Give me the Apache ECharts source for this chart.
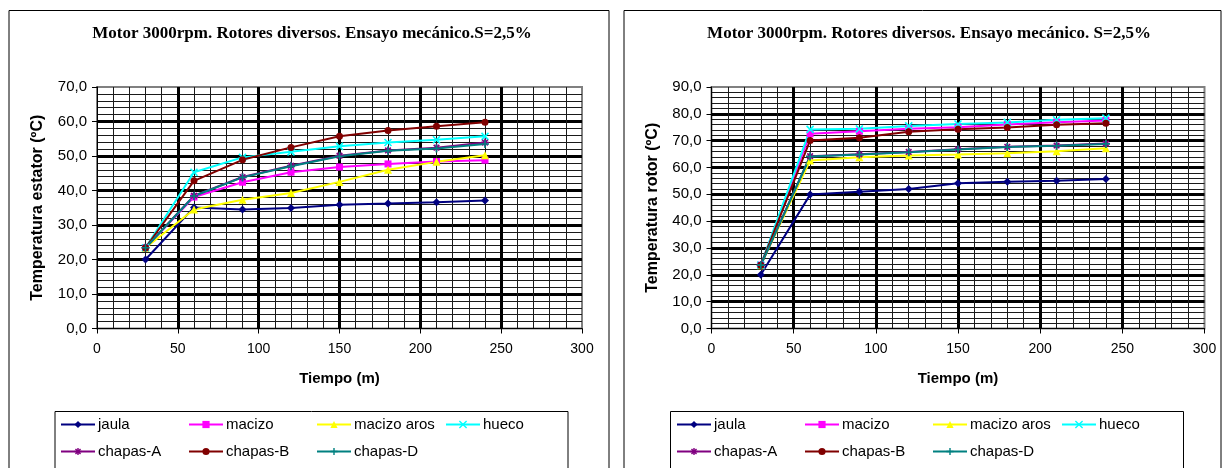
<!DOCTYPE html>
<html>
<head>
<meta charset="utf-8">
<title>Motor 3000rpm - Rotores diversos</title>
<script src="https://cdn.jsdelivr.net/npm/echarts@6/dist/echarts.min.js"></script>
<style>
  html, body { margin: 0; padding: 0; background: #fff; }
  #chart { width: 1228px; height: 468px; }
</style>
</head>
<body>
<div id="chart"></div>
<script>
// Time of test, minutes
const tiempo = [30, 60, 90, 120, 150, 180, 210, 240];

// Series names (shared by both panels)
const nombres = ['jaula', 'macizo', 'macizo aros', 'hueco', 'chapas-A', 'chapas-B', 'chapas-D'];

// Stator temperature (ºC)
const estatorJaula      = [20.0, 35.1, 34.5, 34.9, 35.9, 36.2, 36.6, 37.1];
const estatorMacizo     = [23.4, 38.1, 42.4, 45.3, 46.8, 47.7, 48.4, 48.8];
const estatorMacizoAros = [23.4, 34.5, 37.3, 39.3, 42.5, 46.0, 48.3, 50.2];
const estatorHueco      = [23.4, 45.3, 49.6, 51.2, 52.8, 53.9, 54.7, 55.7];
const estatorChapasA    = [23.4, 38.5, 43.9, 47.2, 50.1, 51.6, 52.4, 53.9];
const estatorChapasB    = [23.4, 42.8, 48.9, 52.5, 55.7, 57.4, 58.6, 59.8];
const estatorChapasD    = [23.4, 38.4, 43.8, 47.0, 49.9, 51.5, 52.2, 53.5];

// Rotor temperature (ºC)
const rotorJaula      = [20.0, 49.9, 51.0, 52.0, 54.1, 54.7, 55.1, 55.7];
const rotorMacizo     = [23.6, 72.6, 73.5, 74.4, 75.0, 76.0, 76.9, 77.5];
const rotorMacizoAros = [23.6, 62.6, 63.8, 64.5, 64.8, 65.3, 66.1, 67.2];
const rotorHueco      = [23.6, 74.2, 74.4, 75.5, 76.2, 76.8, 77.8, 78.4];
const rotorChapasA    = [23.6, 64.2, 64.9, 65.8, 66.8, 67.7, 68.2, 68.9];
const rotorChapasB    = [23.6, 70.1, 71.1, 73.3, 74.3, 74.9, 75.9, 76.5];
const rotorChapasD    = [23.6, 64.1, 64.8, 65.7, 66.7, 67.6, 68.1, 68.8];

// Axis ticks
const xTicks = { min: 0, max: 300, interval: 50 };
const yTicksEstator = { min: 0, max: 70, interval: 10 };
const yTicksRotor = { min: 0, max: 90, interval: 10 };

const estilos = {
  'jaula':       { color: '#000080', symbol: 'diamond', size: 8, stroke: false },
  'macizo':      { color: '#FF00FF', symbol: 'rect', size: 7, stroke: false },
  'macizo aros': { color: '#FFFF00', symbol: 'triangle', size: 8, stroke: false },
  'hueco':       { color: '#00FFFF', symbol: 'path://M0,0L10,10M10,0L0,10', size: 7, stroke: true },
  'chapas-A':    { color: '#800080', symbol: 'path://M5,0L5,10M0,5L10,5M1.5,1.5L8.5,8.5M8.5,1.5L1.5,8.5', size: 8, stroke: true },
  'chapas-B':    { color: '#800000', symbol: 'circle', size: 7, stroke: false },
  'chapas-D':    { color: '#008080', symbol: 'path://M5,0L5,10M0,5L10,5', size: 8, stroke: true }
};

const FONT = 'Liberation Sans, Arial, sans-serif';
const commaFmt = v => v.toFixed(1).replace('.', ',');

function pares(vals) {
  return tiempo.map((t, i) => [t, vals[i]]);
}

function serie(nombre, vals, idx) {
  const e = estilos[nombre];
  return {
    name: nombre,
    type: 'line',
    xAxisIndex: idx,
    yAxisIndex: idx,
    data: pares(vals),
    symbol: e.symbol,
    symbolSize: e.size,
    showAllSymbol: true,
    lineStyle: { color: e.color, width: 2 },
    itemStyle: {
      color: e.color,
      borderColor: e.color,
      borderWidth: e.stroke ? 1.6 : 0
    },
    emphasis: { disabled: true },
    z: 5
  };
}

function ejeX(idx) {
  return {
    type: 'value',
    gridIndex: idx,
    min: xTicks.min,
    max: xTicks.max,
    interval: xTicks.interval,
    name: 'Tiempo (m)',
    nameLocation: 'middle',
    nameGap: 43,
    nameTextStyle: { fontFamily: FONT, fontSize: 15, fontWeight: 'bold', color: '#000' },
    axisLine: { show: true, lineStyle: { color: '#000', width: 1 } },
    axisTick: { show: true, length: 5, lineStyle: { color: '#000' } },
    axisLabel: { fontFamily: FONT, fontSize: 14, color: '#000', margin: 14 },
    splitLine: { show: true, showMinLine: false, showMaxLine: false, lineStyle: { color: '#000', width: 3 } },
    minorTick: { show: false, splitNumber: 5 },
    minorSplitLine: { show: true, lineStyle: { color: '#1a1a1a', width: 1 } }
  };
}

function ejeY(idx, ticks, titulo) {
  return {
    type: 'value',
    gridIndex: idx,
    min: ticks.min,
    max: ticks.max,
    interval: ticks.interval,
    name: titulo,
    nameLocation: 'middle',
    nameGap: 51,
    nameTextStyle: { fontFamily: FONT, fontSize: 16, fontWeight: 'bold', color: '#000' },
    axisLine: { show: true, lineStyle: { color: '#000', width: 1 } },
    axisTick: { show: true, length: 5, lineStyle: { color: '#000' } },
    axisLabel: { fontFamily: FONT, fontSize: 15, color: '#000', margin: 10, formatter: commaFmt },
    splitLine: { show: true, showMinLine: false, showMaxLine: false, lineStyle: { color: '#000', width: 3 } },
    minorTick: { show: false, splitNumber: 5 },
    minorSplitLine: { show: true, lineStyle: { color: '#1a1a1a', width: 1 } }
  };
}

// Legend entries, one component per entry so columns line up
function leyendas(x0, y0) {
  const colX = [0, 128, 256, 385];
  const out = [];
  nombres.forEach((n, i) => {
    const fila = i < 4 ? 0 : 1;
    const col = i < 4 ? i : i - 4;
    out.push({
      data: [n],
      left: x0 + colX[col],
      top: y0 + fila * 27,
      padding: 0,
      itemWidth: 34,
      itemHeight: 9,
      selectedMode: false,
      itemStyle: { borderWidth: estilos[n].stroke ? 1.4 : 0 },
      textStyle: { fontFamily: FONT, fontSize: 15, color: '#000', padding: [0, 0, 0, -2] }
    });
  });
  return out;
}

const series = [];
[estatorJaula, estatorMacizo, estatorMacizoAros, estatorHueco, estatorChapasA, estatorChapasB, estatorChapasD]
  .forEach((v, i) => series.push(serie(nombres[i], v, 0)));
[rotorJaula, rotorMacizo, rotorMacizoAros, rotorHueco, rotorChapasA, rotorChapasB, rotorChapasD]
  .forEach((v, i) => series.push(serie(nombres[i], v, 1)));

const TITLE_FONT = 'bold 17px "Liberation Serif", "Times New Roman", serif';

const chart = echarts.init(document.getElementById('chart'), null, { renderer: 'canvas' });
chart.setOption({
  animation: false,
  backgroundColor: '#fff',
  grid: [
    { left: 97, top: 87, width: 485, height: 241.5, show: true, borderColor: '#808080', borderWidth: 2, backgroundColor: '#fff' },
    { left: 711.5, top: 87, width: 493, height: 241.5, show: true, borderColor: '#808080', borderWidth: 2, backgroundColor: '#fff' }
  ],
  xAxis: [ejeX(0), ejeX(1)],
  yAxis: [ejeY(0, yTicksEstator, 'Temperatura estator (ºC)'), ejeY(1, yTicksRotor, 'Temperatura rotor (ºC)')],
  legend: leyendas(60, 417).concat(leyendas(676, 417)),
  graphic: [
    { type: 'rect', shape: { x: 9, y: 10.5, width: 600, height: 470 }, style: { fill: 'none', stroke: '#000', lineWidth: 1 }, z: -1, silent: true },
    { type: 'rect', shape: { x: 624, y: 10.5, width: 597, height: 470 }, style: { fill: 'none', stroke: '#000', lineWidth: 1 }, z: -1, silent: true },
    { type: 'rect', shape: { x: 55, y: 411.5, width: 513, height: 70 }, style: { fill: 'none', stroke: '#000', lineWidth: 1 }, silent: true },
    { type: 'rect', shape: { x: 670.5, y: 411.5, width: 513, height: 70 }, style: { fill: 'none', stroke: '#000', lineWidth: 1 }, silent: true },
    { type: 'text', x: 312, y: 34, style: { text: 'Motor 3000rpm. Rotores diversos. Ensayo mecánico.S=2,5%', font: TITLE_FONT, fill: '#000', textAlign: 'center', textVerticalAlign: 'middle' }, silent: true },
    { type: 'text', x: 929, y: 34, style: { text: 'Motor 3000rpm. Rotores diversos. Ensayo mecánico. S=2,5%', font: TITLE_FONT, fill: '#000', textAlign: 'center', textVerticalAlign: 'middle' }, silent: true }
  ],
  series: series
});
</script>
</body>
</html>
